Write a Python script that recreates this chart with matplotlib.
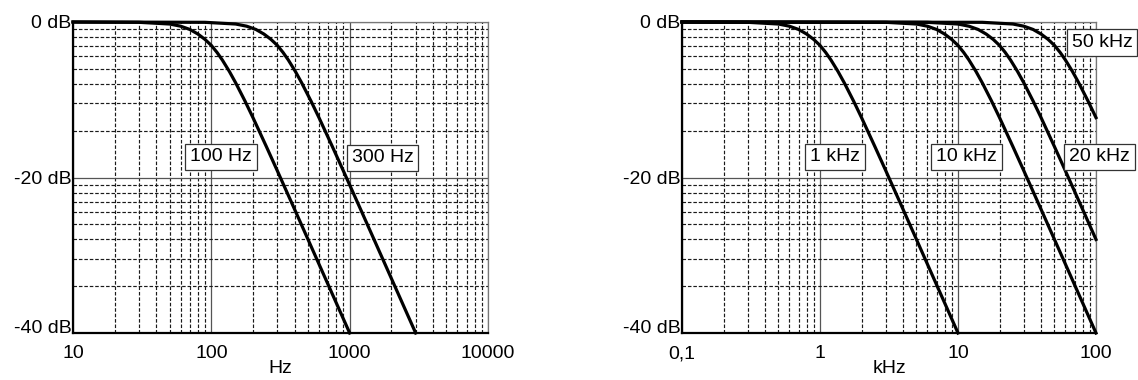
import numpy as np
import matplotlib
matplotlib.use("Agg")
import matplotlib.pyplot as plt
from matplotlib.ticker import LogLocator, FixedLocator, NullFormatter

plt.rcParams['font.family'] = ['Liberation Sans', 'DejaVu Sans']

# level values (dB), shared by all filter curves
rolloff_db = [0, -0.04, -0.26, -0.54, -0.96, -1.55, -2.24, -3.01, -3.92, -4.88,
              -6.36, -7.83, -10.16, -12.30, -16.03, -19.14, -24.10, -27.97, -33.81, -40.0]

# left panel (Hz)
f_100hz = [10, 30, 50, 60, 70, 80, 90, 100, 110, 120, 135, 150, 175, 200, 250, 300, 400, 500, 700, 1000]
f_300hz = [10, 90, 150, 180, 210, 240, 270, 300, 330, 360, 405, 450, 525, 600, 750, 900, 1200, 1500, 2100, 3000]

# right panel (kHz)
f_1khz = [0.1, 0.3, 0.5, 0.6, 0.7, 0.8, 0.9, 1.0, 1.1, 1.2, 1.35, 1.5, 1.75, 2, 2.5, 3, 4, 5, 7, 10]
f_10khz = [0.1, 3, 5, 6, 7, 8, 9, 10, 11, 12, 13.5, 15, 17.5, 20, 25, 30, 40, 50, 70, 100]
f_20khz = [0.1, 6, 10, 12, 14, 16, 18, 20, 22, 24, 27, 30, 35, 40, 50, 60, 80, 100]
f_50khz = [0.1, 15, 25, 30, 35, 40, 45, 50, 55, 60, 67.5, 75, 87.5, 100]

left_xticks = [10, 100, 1000, 10000]
left_xlabels = ["10", "100", "1000", "10000"]
right_xticks = [0.1, 1, 10, 100]
right_xlabels = ["0,1", "1", "10", "100"]
y_ticks = [0, -20, -40]
y_labels = ["0 dB", "-20 dB", "-40 dB"]

fig = plt.figure(figsize=(11.38, 3.8), dpi=100)
ax1 = fig.add_axes([73 / 1138, 47 / 380, 415 / 1138, 311 / 380])
ax2 = fig.add_axes([682 / 1138, 47 / 380, 414 / 1138, 311 / 380])

# horizontal minor grid: amplitude steps 0.9 ... 0.2 in each 20 dB band
minor_y = [20 * np.log10(k / 10) for k in range(2, 10)] + [20 * np.log10(k / 100) for k in range(2, 10)]


def style(ax, xmin, xmax, xticks, xlabels, xlabel):
    ax.set_xscale("log")
    ax.set_xlim(xmin, xmax)
    ax.set_ylim(-40, 0)
    ax.set_xticks(xticks, xlabels)
    ax.xaxis.set_minor_locator(LogLocator(base=10, subs=np.arange(2, 10)))
    ax.xaxis.set_minor_formatter(NullFormatter())
    ax.set_yticks(y_ticks, y_labels)
    ax.yaxis.set_minor_locator(FixedLocator(minor_y))
    ax.tick_params(which="both", length=0, labelsize=14)
    ax.tick_params(axis="x", pad=9)
    ax.tick_params(axis="y", pad=1)
    ax.get_yticklabels()[-1].set_verticalalignment("baseline")
    ax.grid(which="major", color="#555555", linewidth=0.9, linestyle="-")
    ax.grid(which="minor", color="#1a1a1a", linewidth=0.85, linestyle=(0, (3, 1.6)))
    ax.set_axisbelow(True)
    for side in ["left", "bottom"]:
        ax.spines[side].set_color("black")
        ax.spines[side].set_linewidth(1.6)
    for side in ["top", "right"]:
        ax.spines[side].set_color("#777777")
        ax.spines[side].set_linewidth(0.9)
    ax.set_xlabel(xlabel, fontsize=14, labelpad=-2)


def label(ax, x, y, s, ha="center"):
    ax.text(x, y, s, transform=ax.transAxes, ha=ha, va="center", fontsize=14,
            clip_on=False, zorder=5,
            bbox=dict(boxstyle="square,pad=0.25", facecolor="white", edgecolor="#333333", linewidth=0.9))


style(ax1, 10, 10000, left_xticks, left_xlabels, "Hz")
style(ax2, 0.1, 100, right_xticks, right_xlabels, "kHz")

lw = 2.3
ax1.plot(f_100hz, rolloff_db, color="black", linewidth=lw, clip_on=False, zorder=4)
ax1.plot(f_300hz, rolloff_db, color="black", linewidth=lw, clip_on=False, zorder=4)
ax2.plot(f_1khz, rolloff_db, color="black", linewidth=lw, clip_on=False, zorder=4)
ax2.plot(f_10khz, rolloff_db, color="black", linewidth=lw, clip_on=False, zorder=4)
ax2.plot(f_20khz, rolloff_db[:len(f_20khz)], color="black", linewidth=lw, clip_on=False, zorder=4)
ax2.plot(f_50khz, rolloff_db[:len(f_50khz)], color="black", linewidth=lw, clip_on=False, zorder=4)

label(ax1, 0.357, 0.566, "100 Hz")
label(ax1, 0.746, 0.563, "300 Hz")
label(ax2, 0.370, 0.566, "1 kHz")
label(ax2, 0.687, 0.566, "10 kHz")
label(ax2, 0.935, 0.566, "20 kHz", ha="left")
label(ax2, 0.941, 0.935, "50 kHz", ha="left")

fig.savefig("out.png", dpi=100)
